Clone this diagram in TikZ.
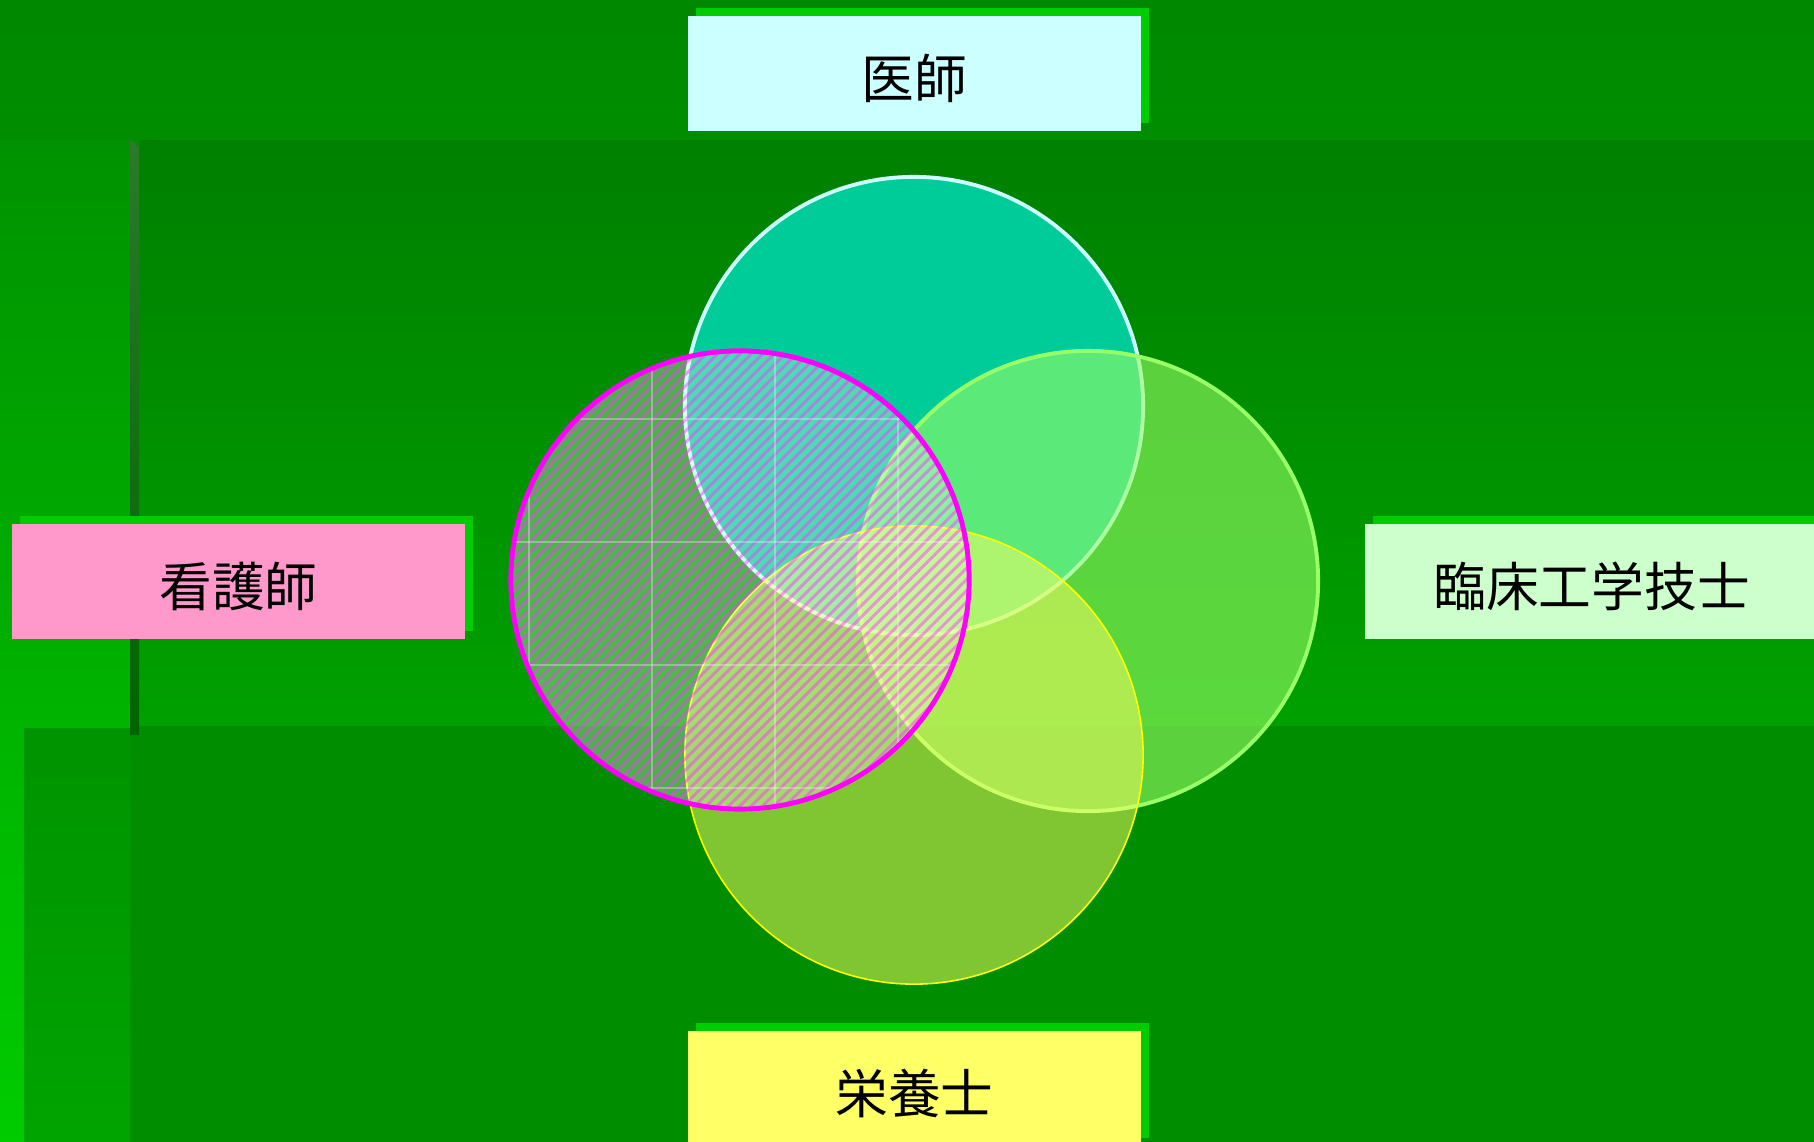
\documentclass[tikz,border=0pt]{standalone}
\usepackage{fontspec}
\newfontfamily\jpfont{Noto Sans CJK JP}
\usetikzlibrary{shadows}
\definecolor{bandA}{HTML}{008800}
\definecolor{bandB}{HTML}{008E00}
\definecolor{stripA}{HTML}{009200}
\definecolor{stripB}{HTML}{00CC00}
\definecolor{innerL}{HTML}{00A400}
\definecolor{bottomG}{HTML}{008E00}
\definecolor{midA}{HTML}{008000}
\definecolor{midB}{HTML}{00A000}
\definecolor{barA}{HTML}{2A7A2A}
\definecolor{barB}{HTML}{006400}
\definecolor{shgreen}{HTML}{00CC00}
\definecolor{docbox}{HTML}{CCFFFF}
\definecolor{nurbox}{HTML}{FF99CC}
\definecolor{engbox}{HTML}{CCFFCC}
\definecolor{nutbox}{HTML}{FFFF66}
\definecolor{teal}{HTML}{00CC99}
\definecolor{lgreen}{HTML}{99FF66}
\definecolor{pinkst}{HTML}{FF33FF}
\definecolor{magline}{HTML}{FF00FF}
\definecolor{yline}{HTML}{FFFF00}
\newcommand\lowered[1]{\raisebox{-1.3pt}[\height][\depth]{#1}}
\begin{document}
\begin{tikzpicture}[x=0.01cm,y=-0.01cm,
  labelbox/.style={rectangle, minimum width=4.53cm, minimum height=1.15cm,
    inner sep=0pt, font=\jpfont\fontsize{15pt}{18pt}\selectfont, text=black,
    drop shadow={shadow xshift=0.08cm, shadow yshift=0.08cm, opacity=1, fill=shgreen}},
  hatch/.style={pinkst, opacity=0.48, line width=0.85pt},
  gridln/.style={white, opacity=0.3, line width=0.3pt}]
\useasboundingbox (0,0) rectangle (1814,1142);
\clip (0,0) rectangle (1814,1142);
% background
\fill[bottomG] (0,0) rectangle (1814,1142);
\shade[top color=bandA, bottom color=bandB] (0,0) rectangle (1814,140);
\shade[top color=stripA, bottom color=stripB] (0,140) rectangle (130,1142);
\shade[top color=innerL!90!black, bottom color=innerL] (24,728) rectangle (130,1142);
\shade[top color=midA, bottom color=midB] (139,140) rectangle (1814,725);
\shade[top color=barA, bottom color=barB] (130,140) -- (132,140) -- (139,147) -- (139,735) -- (130,735) -- cycle;
% label boxes
\node[labelbox, fill=docbox] (doc) at (914.5,73.5) {\lowered{医師}};
\node[labelbox, fill=nurbox] (nur) at (238.5,581.5) {\lowered{看護師}};
\node[labelbox, fill=engbox] (eng) at (1591.5,581.5) {\lowered{臨床工学技士}};
\node[labelbox, fill=nutbox] (nut) at (914.5,1088.5) {\lowered{栄養士}};
% circles
\fill[teal] (914,406) circle (2.29cm);
\draw[docbox, line width=1.1pt] (914,406) circle (2.29cm);
\fill[lgreen, opacity=0.6] (1088,581) circle (2.30cm);
\draw[lgreen, line width=1.1pt] (1088,581) circle (2.30cm);
\fill[nutbox, opacity=0.5] (914,755) circle (2.29cm);
\draw[yline, line width=0.45pt] (914,755) circle (2.29cm);
% hatched circle
\begin{scope}
  \clip (740,580) circle (2.29cm);
  \fill[white, opacity=0.3] (740,580) circle (2.29cm);
  \foreach \i in {-32,...,32} {
    \draw[hatch] ({440+\i*11.3},880) -- ({1040+\i*11.3},280);
  }
  \foreach \gx in {529,652,775,898} { \draw[gridln] (\gx,340) -- (\gx,820); }
  \foreach \gy in {419,542,665,788} { \draw[gridln] (500,\gy) -- (980,\gy); }
\end{scope}
\draw[magline, line width=1.4pt] (740,580) circle (2.29cm);
\end{tikzpicture}
\end{document}
